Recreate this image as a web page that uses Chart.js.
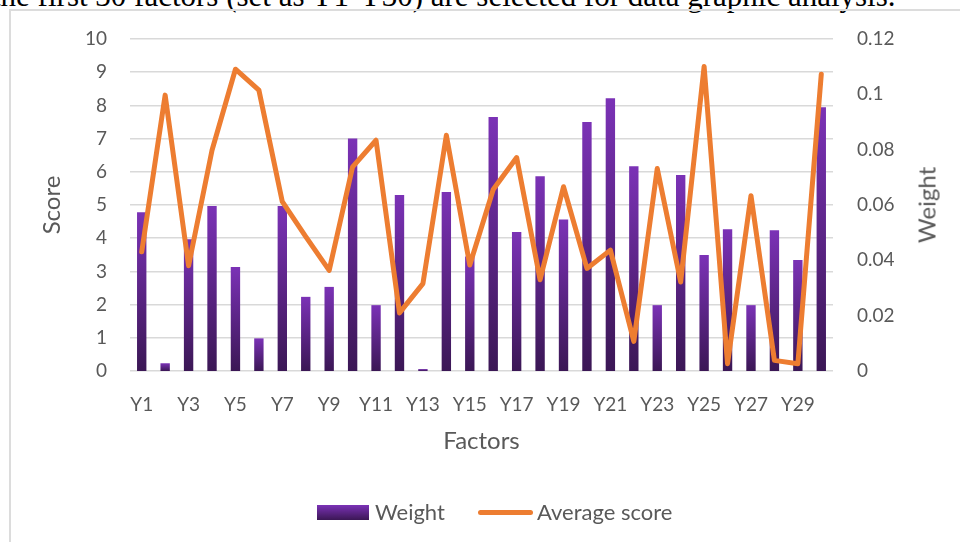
<!DOCTYPE html>
<html>
<head>
<meta charset="utf-8">
<script src="https://cdn.jsdelivr.net/npm/chart.js@4/dist/chart.umd.min.js"></script>
<style>
html,body{margin:0;padding:0;background:#fff;width:960px;height:542px;overflow:hidden;}
body{position:relative;}
#top{position:absolute;left:-8px;top:-20px;font-family:"Liberation Serif",serif;font-size:31px;line-height:31px;white-space:nowrap;color:#000;}
#frame{position:absolute;left:9px;top:9px;width:1000px;height:600px;border:2px solid #dcdcdc;box-sizing:border-box;}
#wrap{position:absolute;left:0;top:0;width:960px;height:542px;}
.lg{position:absolute;font-family:Lato,sans-serif;font-size:22px;color:#595959;line-height:26px;white-space:nowrap;}
#wtitle{position:absolute;left:926px;top:205px;transform:translate(-50%,-50%) rotate(-90deg);font-family:Lato,sans-serif;font-size:24px;color:#595959;white-space:nowrap;}
</style>
</head>
<body>
<div id="top">the first 30 factors (set as Y1-Y30) are selected for data graphic analysis.</div>
<div id="frame"></div>
<div id="wrap"><canvas id="c" width="960" height="542"></canvas></div>
<div id="wtitle">Weight</div>
<div id="lgBar" style="position:absolute;left:317px;top:505px;width:52px;height:15px;background:linear-gradient(#7B32B6,#3B1755);"></div>
<div class="lg" style="left:375px;top:499px;">Weight</div>
<div style="position:absolute;left:478px;top:510px;width:55px;height:5px;border-radius:3px;background:#ED7D31;"></div>
<div class="lg" style="left:537px;top:499px;">Average score</div>
<script>
const categories = ["Y1","Y2","Y3","Y4","Y5","Y6","Y7","Y8","Y9","Y10","Y11","Y12","Y13","Y14","Y15","Y16","Y17","Y18","Y19","Y20","Y21","Y22","Y23","Y24","Y25","Y26","Y27","Y28","Y29","Y30"];
const weightValues = [0.0574,0.0028,0.0476,0.0596,0.0376,0.0118,0.0596,0.0268,0.0304,0.0840,0.0238,0.0636,0.0007,0.0647,0.0414,0.0918,0.0502,0.0704,0.0548,0.0900,0.0986,0.0740,0.0238,0.0708,0.0419,0.0512,0.0238,0.0509,0.0401,0.0953];
const scoreValues = [3.59,8.31,3.17,6.65,9.09,8.46,5.10,4.05,3.03,6.15,6.95,1.75,2.63,7.10,3.19,5.47,6.43,2.75,5.55,3.09,3.64,0.89,6.10,2.68,9.17,0.22,5.28,0.32,0.22,8.94];
const scoreAxis = {min:0, max:10, step:1};
const weightAxis = {min:0, max:0.12, step:0.02};

const tickColor = '#595959';
const fontFam = 'Lato, sans-serif';

function barGradient(ctx){
  const chart = ctx.chart;
  if(!chart.chartArea || ctx.type !== 'data') return '#6a2aa0';
  const sc = chart.scales.yW;
  const top = sc.getPixelForValue(ctx.raw);
  const bot = sc.getPixelForValue(0);
  if(!isFinite(top) || bot - top < 0.5) return '#7B32B6';
  const g = chart.ctx.createLinearGradient(0, top, 0, bot);
  g.addColorStop(0, '#7B32B6');
  g.addColorStop(1, '#3B1755');
  return g;
}

new Chart(document.getElementById('c'), {
  data: {
    labels: categories,
    datasets: [
      {type:'line', label:'Average score', data:scoreValues, yAxisID:'yS', order:0,
       borderColor:'#ED7D31', borderWidth:5, pointRadius:0, tension:0,
       borderJoinStyle:'round', borderCapStyle:'round', fill:false},
      {type:'bar', label:'Weight', data:weightValues, yAxisID:'yW', order:1,
       backgroundColor:barGradient, barPercentage:0.4, categoryPercentage:1.0, borderWidth:0}
    ]
  },
  options: {
    responsive:false, animation:false, devicePixelRatio:1,
    layout:{padding:{top:39,left:0,right:0,bottom:89}},
    plugins:{legend:{display:false}, tooltip:{enabled:false}},
    scales:{
      x:{
        type:'category', offset:true,
        grid:{display:false}, border:{display:false},
        ticks:{autoSkip:false, maxRotation:0, minRotation:0, padding:14, color:tickColor,
               font:{family:fontFam, size:19},
               callback:function(v, i){ return i % 2 === 0 ? this.getLabelForValue(v) : ''; }},
        title:{display:true, text:'Factors', color:tickColor, font:{family:fontFam, size:24}, padding:{top:4,bottom:-3}},
        afterFit:(s)=>{ s.height = 82; }
      },
      yS:{
        type:'linear', position:'left', min:scoreAxis.min, max:scoreAxis.max,
        ticks:{stepSize:scoreAxis.step, padding:23, color:tickColor, font:{family:fontFam, size:19}},
        grid:{color:'#d9d9d9', lineWidth:1.5, drawTicks:false},
        border:{display:false},
        title:{display:true, text:'Score', color:tickColor, font:{family:fontFam, size:24}, padding:{top:38,bottom:0}},
        afterFit:(s)=>{ s.width = 130; }
      },
      yW:{
        type:'linear', position:'right', min:weightAxis.min, max:weightAxis.max,
        ticks:{stepSize:weightAxis.step, padding:24, color:tickColor, font:{family:fontFam, size:19},
               callback:(v)=>String(Number(v.toFixed(2)))},
        grid:{display:false, drawTicks:false},
        border:{display:false},
        afterFit:(s)=>{ s.width = 127; }
      }
    }
  }
});
</script>
</body>
</html>
